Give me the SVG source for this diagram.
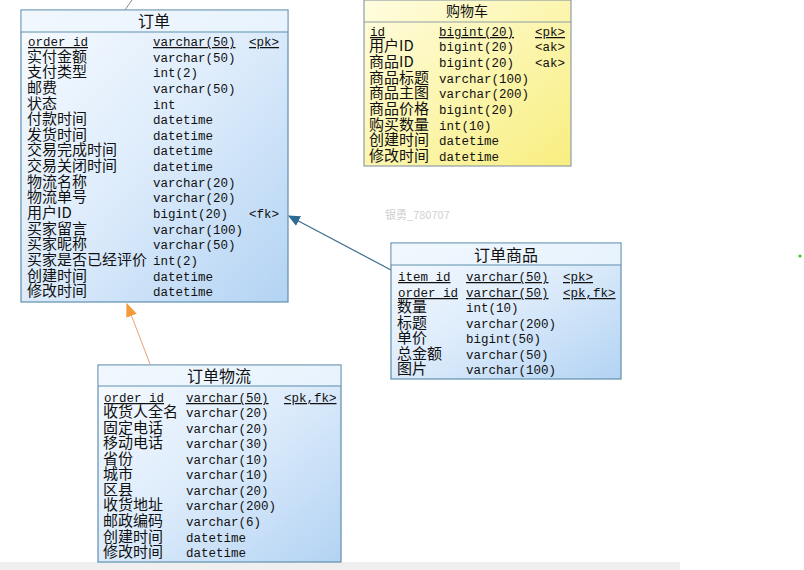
<svg xmlns="http://www.w3.org/2000/svg" width="804" height="570" viewBox="0 0 804 570">
<style>
.cn{font-family:"Noto Sans CJK SC","Noto Sans",sans-serif;font-size:15px;fill:#111}
.mo{font-family:"Liberation Mono","DejaVu Sans Mono",monospace;font-size:12.5px;fill:#111}
.u{text-decoration:underline}
.ti{font-family:"Noto Sans CJK SC",sans-serif;font-size:16px;fill:#111;text-anchor:middle}
.bt{stroke:#5f8fae;stroke-width:1.2}
.yt{stroke:#8e9ea6;stroke-width:1.2}
</style>
<defs>
<linearGradient id="blue" x1="0" y1="0" x2="1" y2="1">
<stop offset="0" stop-color="#f7fbff"/>
<stop offset="0.5" stop-color="#dcebfb"/>
<stop offset="1" stop-color="#b3d3f3"/>
</linearGradient>
<linearGradient id="yel" x1="0" y1="0" x2="1" y2="1">
<stop offset="0" stop-color="#fffde0"/>
<stop offset="1" stop-color="#f8ee80"/>
</linearGradient>
<marker id="ab" viewBox="0 0 10 10" refX="9" refY="5" markerWidth="10" markerHeight="10" orient="auto">
<path d="M0,0.5 L10,5 L0,9.5 z" fill="#2e6a94"/>
</marker>
<marker id="ao" viewBox="0 0 10 10" refX="9" refY="5" markerWidth="14" markerHeight="14" orient="auto">
<path d="M0,1 L10,5 L0,9 z" fill="#f39a3a"/>
</marker>
</defs>
<rect x="0" y="0" width="804" height="570" fill="#ffffff"/>
<rect x="0" y="562" width="680" height="8" fill="#efefef"/>
<circle cx="800" cy="256" r="1.5" fill="#22cc22"/>
<text x="385" y="219" font-family="Noto Sans CJK SC,sans-serif" font-size="11" fill="#d0d0d0">银勇_780707</text>

<g id="connectors">
<line x1="125" y1="10" x2="132" y2="0" stroke="#8a8a8a" stroke-width="1"/>
<line x1="391" y1="270" x2="289" y2="216" stroke="#3c6d8c" stroke-width="1.2" marker-end="url(#ab)"/>
<line x1="150" y1="364" x2="127" y2="304" stroke="#e9a07a" stroke-width="1" marker-end="url(#ao)"/>
</g>

<g id="order">
<rect x="21" y="10" width="267" height="292" fill="url(#blue)" class="bt"/>
<rect x="21.6" y="10.6" width="265.8" height="21" fill="#eef6fe" opacity="0.7"/>
<line x1="21" y1="32" x2="288" y2="32" class="bt"/>
<text x="154" y="27" class="ti">订单</text>
<text x="28" y="46" class="mo u">order_id</text><text x="153" y="46" class="mo u">varchar(50)</text><text x="249" y="46" class="mo u">&lt;pk&gt;</text>
<text x="27" y="62" class="cn">实付金额</text><text x="153" y="62" class="mo">varchar(50)</text>
<text x="27" y="77" class="cn">支付类型</text><text x="153" y="77" class="mo">int(2)</text>
<text x="27" y="93" class="cn">邮费</text><text x="153" y="93" class="mo">varchar(50)</text>
<text x="27" y="109" class="cn">状态</text><text x="153" y="109" class="mo">int</text>
<text x="27" y="124" class="cn">付款时间</text><text x="153" y="124" class="mo">datetime</text>
<text x="27" y="140" class="cn">发货时间</text><text x="153" y="140" class="mo">datetime</text>
<text x="27" y="155" class="cn">交易完成时间</text><text x="153" y="155" class="mo">datetime</text>
<text x="27" y="171" class="cn">交易关闭时间</text><text x="153" y="171" class="mo">datetime</text>
<text x="27" y="187" class="cn">物流名称</text><text x="153" y="187" class="mo">varchar(20)</text>
<text x="27" y="202" class="cn">物流单号</text><text x="153" y="202" class="mo">varchar(20)</text>
<text x="27" y="218" class="cn">用户ID</text><text x="153" y="218" class="mo">bigint(20)</text><text x="249" y="218" class="mo">&lt;fk&gt;</text>
<text x="27" y="234" class="cn">买家留言</text><text x="153" y="234" class="mo">varchar(100)</text>
<text x="27" y="249" class="cn">买家昵称</text><text x="153" y="249" class="mo">varchar(50)</text>
<text x="27" y="265" class="cn">买家是否已经评价</text><text x="153" y="265" class="mo">int(2)</text>
<text x="27" y="281" class="cn">创建时间</text><text x="153" y="281" class="mo">datetime</text>
<text x="27" y="296" class="cn">修改时间</text><text x="153" y="296" class="mo">datetime</text>
</g>

<g id="cart">
<rect x="364" y="0" width="207" height="166" fill="url(#yel)" class="yt"/>
<line x1="364" y1="22" x2="571" y2="22" class="yt"/>
<text x="467" y="16" class="ti" style="font-size:14px">购物车</text>
<text x="370" y="36" class="mo u">id</text><text x="439" y="36" class="mo u">bigint(20)</text><text x="535" y="36" class="mo u">&lt;pk&gt;</text>
<text x="369" y="51" class="cn">用户ID</text><text x="439" y="51" class="mo">bigint(20)</text><text x="535" y="51" class="mo">&lt;ak&gt;</text>
<text x="369" y="67" class="cn">商品ID</text><text x="439" y="67" class="mo">bigint(20)</text><text x="535" y="67" class="mo">&lt;ak&gt;</text>
<text x="369" y="83" class="cn">商品标题</text><text x="439" y="83" class="mo">varchar(100)</text>
<text x="369" y="98" class="cn">商品主图</text><text x="439" y="98" class="mo">varchar(200)</text>
<text x="369" y="114" class="cn">商品价格</text><text x="439" y="114" class="mo">bigint(20)</text>
<text x="369" y="130" class="cn">购买数量</text><text x="439" y="130" class="mo">int(10)</text>
<text x="369" y="145" class="cn">创建时间</text><text x="439" y="145" class="mo">datetime</text>
<text x="369" y="161" class="cn">修改时间</text><text x="439" y="161" class="mo">datetime</text>
</g>

<g id="order-item">
<rect x="391" y="243" width="230" height="136" fill="url(#blue)" class="bt"/>
<rect x="391.6" y="243.6" width="228.8" height="21" fill="#eef6fe" opacity="0.7"/>
<line x1="391" y1="265" x2="621" y2="265" class="bt"/>
<text x="506" y="261" class="ti">订单商品</text>
<text x="398" y="281" class="mo u">item_id</text><text x="466" y="281" class="mo u">varchar(50)</text><text x="563" y="281" class="mo u">&lt;pk&gt;</text>
<text x="398" y="297" class="mo u">order_id</text><text x="466" y="297" class="mo u">varchar(50)</text><text x="563" y="297" class="mo u">&lt;pk,fk&gt;</text>
<text x="397" y="312" class="cn">数量</text><text x="466" y="312" class="mo">int(10)</text>
<text x="397" y="328" class="cn">标题</text><text x="466" y="328" class="mo">varchar(200)</text>
<text x="397" y="343" class="cn">单价</text><text x="466" y="343" class="mo">bigint(50)</text>
<text x="397" y="359" class="cn">总金额</text><text x="466" y="359" class="mo">varchar(50)</text>
<text x="397" y="374" class="cn">图片</text><text x="466" y="374" class="mo">varchar(100)</text>
</g>

<g id="order-logistics">
<rect x="98" y="365" width="243" height="197" fill="url(#blue)" class="bt"/>
<rect x="98.6" y="365.6" width="241.8" height="20" fill="#eef6fe" opacity="0.7"/>
<line x1="98" y1="386" x2="341" y2="386" class="bt"/>
<text x="219" y="382" class="ti">订单物流</text>
<text x="104" y="402" class="mo u">order_id</text><text x="186" y="402" class="mo u">varchar(50)</text><text x="284" y="402" class="mo u">&lt;pk,fk&gt;</text>
<text x="103" y="417" class="cn">收货人全名</text><text x="186" y="417" class="mo">varchar(20)</text>
<text x="103" y="433" class="cn">固定电话</text><text x="186" y="433" class="mo">varchar(20)</text>
<text x="103" y="448" class="cn">移动电话</text><text x="186" y="448" class="mo">varchar(30)</text>
<text x="103" y="464" class="cn">省份</text><text x="186" y="464" class="mo">varchar(10)</text>
<text x="103" y="479" class="cn">城市</text><text x="186" y="479" class="mo">varchar(10)</text>
<text x="103" y="495" class="cn">区县</text><text x="186" y="495" class="mo">varchar(20)</text>
<text x="103" y="510" class="cn">收货地址</text><text x="186" y="510" class="mo">varchar(200)</text>
<text x="103" y="526" class="cn">邮政编码</text><text x="186" y="526" class="mo">varchar(6)</text>
<text x="103" y="542" class="cn">创建时间</text><text x="186" y="542" class="mo">datetime</text>
<text x="103" y="557" class="cn">修改时间</text><text x="186" y="557" class="mo">datetime</text>
</g>
</svg>
